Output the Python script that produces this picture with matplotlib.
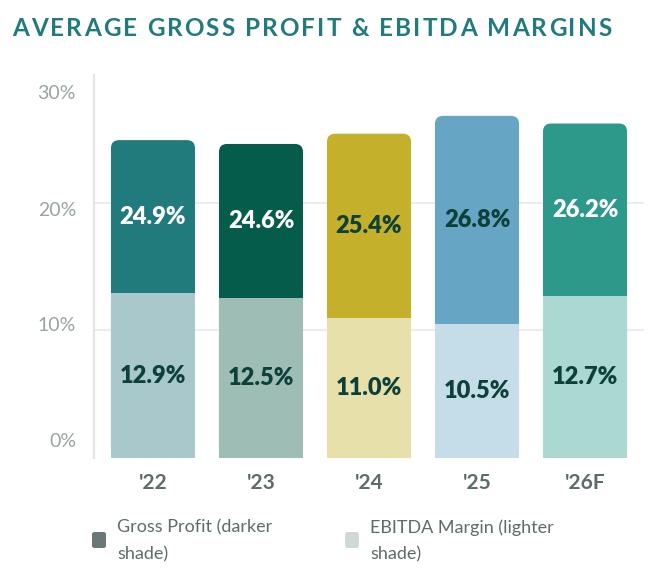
import matplotlib
matplotlib.use("Agg")
import matplotlib.pyplot as plt
from matplotlib.patches import FancyBboxPatch
from matplotlib.transforms import ScaledTranslation

# data
years = ["'22", "'23", "'24", "'25", "'26F"]
gross_profit = [24.9, 24.6, 25.4, 26.8, 26.2]
ebitda_margin = [12.9, 12.5, 11.0, 10.5, 12.7]
yticks = [0, 10, 20, 30]

dark_colors = ["#217a7c", "#065c4b", "#c4b02b", "#66a6c4", "#2d998a"]
light_colors = ["#a8c8cc", "#9dbdb5", "#e8e0ab", "#c5dde8", "#acd8d2"]
gp_text = ["white", "white", "#0d4039", "#0d4039", "white"]

plt.rcParams['font.family'] = ['Lato', 'DejaVu Sans']

fig = plt.figure(figsize=(6.64, 5.72), dpi=100)
ax = fig.add_axes([94 / 664, 1 - 458 / 572, 550 / 664, 383 / 572])
ax.set_xlim(-0.546, 4.546)
ax.set_ylim(0, 30)

width = 0.778
# px to data ratio for rounded corners
mut_aspect = (30 / 383) / (5.092 / 550)
for i, (gp, eb) in enumerate(zip(gross_profit, ebitda_margin)):
    box = FancyBboxPatch((i - width / 2, 0), width, gp,
                         boxstyle="round,pad=0,rounding_size=0.075",
                         mutation_aspect=mut_aspect,
                         fc=dark_colors[i], ec="none", zorder=2)
    ax.add_patch(box)
ax.bar(range(len(years)), ebitda_margin, width=width, color=light_colors, zorder=3)

for i, (gp, eb) in enumerate(zip(gross_profit, ebitda_margin)):
    ax.text(i, (gp + eb) / 2, f"{gp:.1f}%", ha="center", va="center",
            fontsize=17, fontweight="heavy", color=gp_text[i], zorder=4)
    ax.text(i, eb / 2, f"{eb:.1f}%", ha="center", va="center",
            fontsize=17, fontweight="heavy", color="#0d4039", zorder=4)

# axes styling
for side in ["top", "right", "bottom"]:
    ax.spines[side].set_visible(False)
ax.spines["left"].set_color("#e3e6e6")
ax.spines["left"].set_linewidth(1.5)
ax.set_yticks(yticks)
ax.set_yticklabels([f"{t}%" for t in yticks])
ax.tick_params(axis="y", length=0, pad=13, labelsize=14, labelcolor="#9aa3a3")
# the labels in the original sit a bit inward from their gridlines
shifts = [18, 6, -6, -17]
for lab, dy in zip(ax.get_yticklabels(), shifts):
    lab.set_transform(lab.get_transform() + ScaledTranslation(0, dy / 100, fig.dpi_scale_trans))
ax.set_xticks(range(len(years)))
ax.set_xticklabels(years, fontweight="bold")
ax.tick_params(axis="x", length=0, pad=11, labelsize=15, labelcolor="#5f6b6b")
for t in [10, 20]:
    ax.axhline(t, color="#ececec", lw=1.5, zorder=1)

# title with letter spacing, drawn one character at a time
title = "AVERAGE GROSS PROFIT & EBITDA MARGINS"
title_kw = dict(fontsize=17.5, fontweight="bold", color="#217a7c", va="center", ha="left")
renderer = fig.canvas.get_renderer()
probe = fig.text(0, 0, title, **title_kw)
natural_w = probe.get_window_extent(renderer).width
probe.remove()
spacing = (600 - natural_w) / (len(title) - 1)
x = 12.0
for ch in title:
    t = fig.text(x / 664, 1 - 29 / 572, ch, **title_kw)
    if ch == " ":
        probe = fig.text(0, 0, "A A", **title_kw)
        w = probe.get_window_extent(renderer).width
        probe.remove()
        probe = fig.text(0, 0, "AA", **title_kw)
        w -= probe.get_window_extent(renderer).width
        probe.remove()
    else:
        w = t.get_window_extent(renderer).width
    x += w + spacing

# legend
legend_items = [("Gross Profit (darker\nshade)", "#6b7877", 92),
                ("EBITDA Margin (lighter\nshade)", "#cfdad8", 345)]
for label, col, x0 in legend_items:
    sq = FancyBboxPatch((x0 / 664, 1 - 548 / 572), 14 / 664, 16 / 572,
                        boxstyle="round,pad=0,rounding_size=0.004",
                        transform=fig.transFigure, fc=col, ec="none")
    fig.patches.append(sq)
    fig.text((x0 + 25) / 664, 1 - 541 / 572, label, fontsize=13,
             color="#5f6b6b", va="center", ha="left", linespacing=1.85)

fig.savefig("out.png", dpi=100)
